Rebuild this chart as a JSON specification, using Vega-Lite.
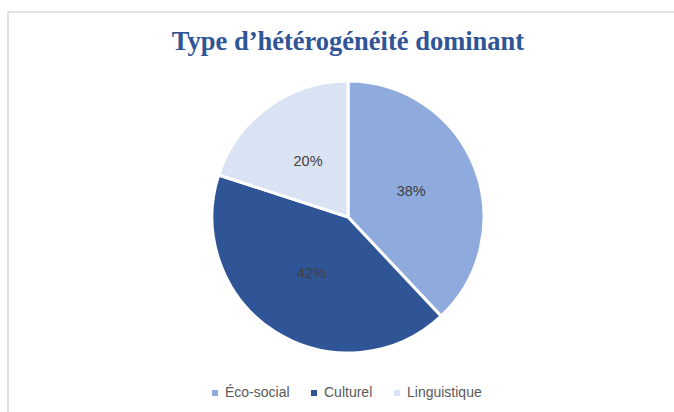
{
  "$schema": "https://vega.github.io/schema/vega-lite/v6.json",
  "autosize": {"type": "none"},
  "width": 680,
  "height": 410,
  "padding": {"left": 8, "top": 12, "right": -14, "bottom": -10},
  "background": "white",
  "config": {
    "view": {"stroke": null}
  },
  "title": {
    "text": "Type d’hétérogénéité dominant",
    "font": "Liberation Serif",
    "fontSize": 26.5,
    "fontWeight": "bold",
    "color": "#2f5597",
    "baseline": "alphabetic",
    "anchor": "middle",
    "offset": 0,
    "dy": 65
  },
  "layer": [
    {
      "data": {"values": [{"frame": 1}]},
      "mark": {"type": "rect", "fill": null, "fillOpacity": 0, "stroke": "#d9d9d9", "strokeWidth": 1.5},
      "encoding": {}
    },
    {
      "data": {
        "values": [
          {"type": "Éco-social", "pct": 38, "label": "38%", "ord": 1},
          {"type": "Culturel", "pct": 42, "label": "42%", "ord": 2},
          {"type": "Linguistique", "pct": 20, "label": "20%", "ord": 3}
        ]
      },
      "encoding": {
        "theta": {"field": "pct", "type": "quantitative", "stack": true},
        "order": {"field": "ord", "type": "quantitative"}
      },
      "layer": [
        {
          "mark": {"type": "arc", "outerRadius": 136, "stroke": "white", "strokeWidth": 3},
          "encoding": {
            "color": {
              "field": "type",
              "type": "nominal",
              "scale": {
                "domain": ["Éco-social", "Culturel", "Linguistique"],
                "range": ["#8faadc", "#2f5597", "#dae3f3"]
              },
              "legend": {
                "title": null,
                "orient": "none",
                "direction": "horizontal",
                "legendX": 200,
                "legendY": 374,
                "padding": 0,
                "symbolType": "square",
                "symbolSize": 36,
                "symbolStrokeWidth": 0,
                "labelFont": "Liberation Sans",
                "labelFontSize": 14,
                "labelColor": "#595959",
                "columnPadding": 17,
                "labelOffset": 3
              }
            }
          }
        },
        {
          "mark": {"type": "text", "radius": 68, "font": "Liberation Sans", "fontSize": 14.5, "color": "#404040"},
          "encoding": {
            "text": {"field": "label", "type": "nominal"}
          }
        }
      ]
    }
  ]
}
